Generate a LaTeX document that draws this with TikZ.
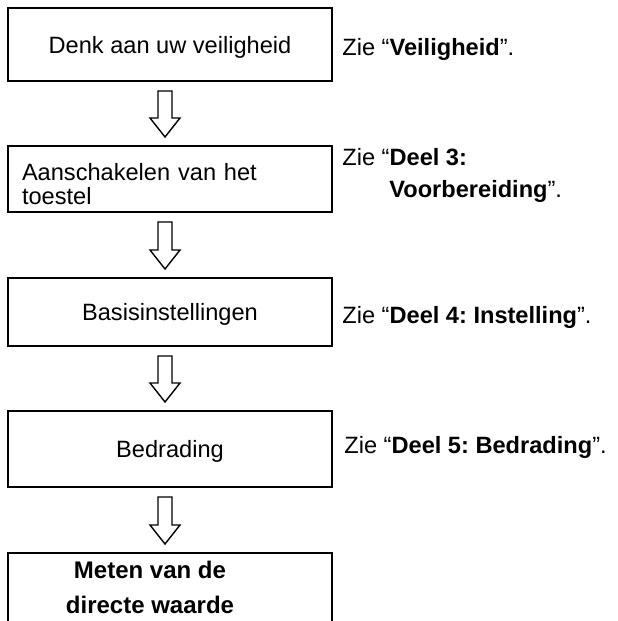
\documentclass[tikz,border=0pt]{standalone}
\usepackage{fontspec}
\setmainfont{Liberation Sans}
\usepackage{tikz}
\usetikzlibrary{positioning,calc}

\tikzset{
  box/.style={draw, line width=0.7pt, rectangle, minimum width=162pt, outer sep=0pt, inner sep=0pt,
    text height=10.5pt, text depth=2pt},
  note/.style={anchor=base west, inner sep=0pt, align=left},
  hollow/.style={draw, line width=0.7pt, line join=miter, fill=white}
}

% hollow block arrow from the bottom of #1 to the top of #2
\newcommand{\flowarrow}[2]{%
  \draw[hollow] ($(#1.south)+(-12,10)$) -- ($(#2.north)+(-12,-28)$) -- ++(-8,0)
    -- ($(#2.north)+(-5,-9)$) -- ++(15,-19) -- ++(-8,0) -- ($(#1.south)+(2,10)$) -- cycle;}

\begin{document}
\frenchspacing
\begin{tikzpicture}[x=0.5pt, y=-0.5pt, font=\fontsize{11.8}{12}\selectfont]
        \useasboundingbox (0,0) rectangle (617,621);
        \clip (0,0) rectangle (617,621);

        % steps
        \node[box, minimum height=36.5pt] (b1) at (170,44.5) {Denk aan uw veiligheid};
        \node[box, minimum height=33pt, text width=148pt, align=left, text height=13pt, text depth=12pt] (b2) at (170,179) {Aanschakelen van het\\[0pt]toestel};
        \node[box, minimum height=34pt] (b3) at (170,312) {Basisinstellingen};
        \node[box, minimum height=38pt] (b4) at (170,449) {Bedrading};
        \node[box, minimum height=50pt] (b5) at (170,603) {};
        \node[font=\fontsize{12}{12}\selectfont\bfseries, align=center, inner sep=0pt] (t5) at (150,587) {Meten van de\\[5.5pt]directe waarde};

        % references
        \node[note] (n1) at (342,55) {Zie “\textbf{Veiligheid}”.};
        \node[note] (n2) at (342,197) {Zie “\textbf{Deel 3:}\\[4pt]\hspace*{23.5pt}\textbf{Voorbereiding}”.};
        \node[note] (n3) at (342,323) {Zie “\textbf{Deel 4: Instelling}”.};
        \node[note] (n4) at (344,453) {Zie “\textbf{Deel 5: Bedrading}”.};

        \flowarrow{b1}{b2}
        \flowarrow{b2}{b3}
        \flowarrow{b3}{b4}
        \flowarrow{b4}{b5}
\end{tikzpicture}
\end{document}
